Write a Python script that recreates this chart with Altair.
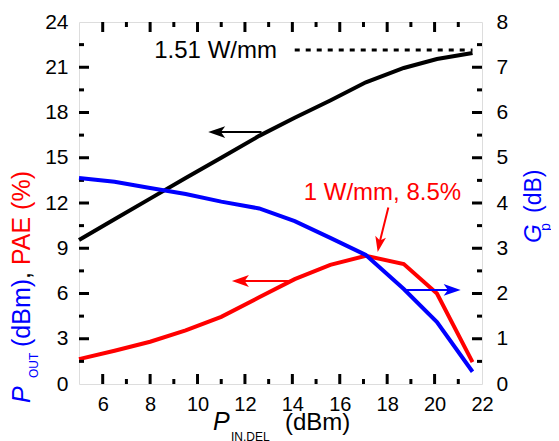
import altair as alt
import pandas as pd

# ---------------- data ----------------
p_in = [5.0, 6.5, 8.0, 9.5, 11.0, 12.6, 14.1, 15.6, 17.1, 18.7, 20.1, 21.6]
p_out = [9.55, 10.92, 12.29, 13.66, 15.0, 16.45, 17.65, 18.8, 20.0, 20.95, 21.55, 21.95]
pae = [1.65, 2.2, 2.8, 3.55, 4.45, 5.75, 6.95, 7.9, 8.5, 7.95, 6.0, 1.45]
gain = [4.55, 4.47, 4.33, 4.2, 4.03, 3.88, 3.6, 3.23, 2.85, 2.1, 1.37, 0.27]

x_ticks = [6, 8, 10, 12, 14, 16, 18, 20, 22]
x_minor = [7, 9, 11, 13, 15, 17, 19, 21]
yl_ticks = [0, 3, 6, 9, 12, 15, 18, 21, 24]
yl_minor = [1.5, 4.5, 7.5, 10.5, 13.5, 16.5, 19.5, 22.5]
yr_ticks = [0, 1, 2, 3, 4, 5, 6, 7, 8]
yr_minor = [0.5, 1.5, 2.5, 3.5, 4.5, 5.5, 6.5, 7.5]

psat_line = {"x": [14.1], "x2": [21.6], "y": [22.15]}
psat_label = {"x": [13.35], "y": [22.1], "t": ["1.51 W/mm"]}
peak_label = {"x": [17.8], "y": [12.65], "t": ["1 W/mm, 8.5%"]}
peak_arrow = {"x": [18.05], "y": [11.7], "x2": [17.65], "y2": [9.2], "tx": [17.6], "ty": [8.75]}
pout_arrow = {"x": [10.9], "x2": [12.7], "y": [16.7], "tx": [10.45]}
pae_arrow = {"x": [11.9], "x2": [13.9], "y": [6.83], "tx": [11.45]}
gain_arrow = {"x": [18.75], "x2": [20.6], "y": [2.08], "tx": [21.1]}

W, H = 403, 362
FONT = "Liberation Sans"
RED, BLUE = "#ff0000", "#0000ff"
HEAD = "M0,0L2,-0.7L1.5,0L2,0.7Z"

df = pd.DataFrame({"x": p_in, "pout": p_out, "pae": pae, "gain": gain})

xscale = alt.Scale(domain=[5, 22], nice=False, zero=False)
xaxis = alt.Axis(values=x_ticks, title=None, orient="bottom", labelFontSize=20,
                 labelPadding=10, ticks=False, domain=False, grid=False,
                 labelFlush=False, labelFont=FONT, labelColor="black")
ylscale = alt.Scale(domain=[0, 24], nice=False, zero=False)
ylaxis = alt.Axis(values=yl_ticks, title=None, orient="left", labelFontSize=21,
                  labelPadding=11, ticks=False, domain=False, grid=False,
                  labelFont=FONT, labelColor="black")
yrscale = alt.Scale(domain=[0, 8], nice=False, zero=False)
yraxis = alt.Axis(values=yr_ticks, title=None, orient="right", labelFontSize=21,
                  labelPadding=14, ticks=False, domain=False, grid=False,
                  labelFont=FONT, labelColor="black")


def X(f):
    return alt.X(f, type="quantitative", scale=xscale, axis=xaxis)


def YL(f):
    return alt.Y(f, type="quantitative", scale=ylscale, axis=ylaxis)


def YR(f):
    return alt.Y(f, type="quantitative", scale=yrscale, axis=yraxis)


def d(obj):
    return pd.DataFrame(obj)


one = pd.DataFrame({"a": [0]})


def label(text, x, y, color="black", size=23, angle=0, italic=False, align="left",
          baseline="middle"):
    kw = dict(text=text, font=FONT, fontSize=size, color=color, align=align,
              baseline=baseline, angle=angle)
    if italic:
        kw["fontStyle"] = "italic"
    return alt.Chart(one).mark_text(**kw).encode(x=alt.value(x), y=alt.value(y))


# ---------------- left-axis layers ----------------
pout_line = alt.Chart(df).mark_line(color="black", strokeWidth=4).encode(x=X("x"), y=YL("pout"))
pae_line = alt.Chart(df).mark_line(color=RED, strokeWidth=4).encode(x=X("x"), y=YL("pae"))

psat = alt.Chart(d(psat_line)).mark_rule(color="black", strokeWidth=3, strokeDash=[5, 6]).encode(
    x=X("x"), x2="x2", y=YL("y"))
psat_txt = alt.Chart(d(psat_label)).mark_text(font=FONT, fontSize=24, align="right",
                                              baseline="middle", color="black").encode(
    x=X("x"), y=YL("y"), text="t:N")
peak_txt = alt.Chart(d(peak_label)).mark_text(font=FONT, fontSize=24, align="center",
                                              baseline="middle", color=RED).encode(
    x=X("x"), y=YL("y"), text="t:N")
peak_stem = alt.Chart(d(peak_arrow)).mark_rule(color=RED, strokeWidth=2).encode(
    x=X("x"), y=YL("y"), x2="x2", y2="y2")
peak_head = alt.Chart(d(peak_arrow)).mark_point(shape=HEAD, size=240, filled=True, opacity=1,
                                                color=RED, angle=281).encode(
    x=X("tx"), y=YL("ty"))

pout_stem = alt.Chart(d(pout_arrow)).mark_rule(color="black", strokeWidth=2).encode(
    x=X("x"), x2="x2", y=YL("y"))
pout_head = alt.Chart(d(pout_arrow)).mark_point(shape=HEAD, size=289, filled=True, opacity=1,
                                                color="black").encode(x=X("tx"), y=YL("y"))
pae_stem = alt.Chart(d(pae_arrow)).mark_rule(color=RED, strokeWidth=2).encode(
    x=X("x"), x2="x2", y=YL("y"))
pae_head = alt.Chart(d(pae_arrow)).mark_point(shape=HEAD, size=289, filled=True, opacity=1,
                                              color=RED).encode(x=X("tx"), y=YL("y"))


def hticks(vals, length, top):
    if top:
        return alt.Chart(pd.DataFrame({"v": vals})).mark_rule(color="black", strokeWidth=3).encode(
            x=X("v"), y=alt.value(0), y2=alt.value(length))
    return alt.Chart(pd.DataFrame({"v": vals})).mark_rule(color="black", strokeWidth=3).encode(
        x=X("v"), y=alt.value(H), y2=alt.value(H - length))


left_ticks = alt.Chart(pd.DataFrame({"v": yl_ticks[1:-1]})).mark_rule(color="black", strokeWidth=3).encode(
    y=YL("v"), x=alt.value(0), x2=alt.value(10))
left_minor = alt.Chart(pd.DataFrame({"v": yl_minor})).mark_rule(color="black", strokeWidth=3).encode(
    y=YL("v"), x=alt.value(0), x2=alt.value(5))

titles = [
    label("P", -57, 381, BLUE, 25, 270, True),
    label("OUT", -45, 356, BLUE, 12, 270),
    label("(dBm)", -57, 325, BLUE, 25, 270),
    label(",", -57, 257, "black", 25, 270),
    label("PAE (%)", -57, 243, RED, 25, 270),
    label("P", 134, 408, "black", 25, 0, True, baseline="alphabetic"),
    label("IN,DEL", 152, 419, "black", 12, 0, baseline="alphabetic"),
    label("(dBm)", 206, 408, "black", 24, 0, baseline="alphabetic"),
    label("G", 455, 221, BLUE, 24, 270, True),
    label("p", 467, 209, BLUE, 14, 270),
    label("(dB)", 455, 191, BLUE, 23, 270),
]

left = alt.layer(
    pout_line, pae_line, psat, psat_txt, peak_txt, peak_stem, peak_head,
    pout_stem, pout_head, pae_stem, pae_head,
    hticks(x_ticks[:-1], 10, False), hticks(x_minor, 5, False),
    hticks(x_ticks[:-1], 10, True), hticks(x_minor, 5, True),
    left_ticks, left_minor, *titles,
)

# ---------------- right-axis layers ----------------
gain_line = alt.Chart(df).mark_line(color=BLUE, strokeWidth=4).encode(x=X("x"), y=YR("gain"))
gain_stem = alt.Chart(d(gain_arrow)).mark_rule(color=BLUE, strokeWidth=2).encode(
    x=X("x"), x2="x2", y=YR("y"))
gain_head = alt.Chart(d(gain_arrow)).mark_point(shape=HEAD, size=289, filled=True, opacity=1,
                                                color=BLUE, angle=180).encode(x=X("tx"), y=YR("y"))
right_ticks = alt.Chart(pd.DataFrame({"v": yr_ticks[1:-1]})).mark_rule(color="black", strokeWidth=3).encode(
    y=YR("v"), x=alt.value(W), x2=alt.value(W - 10))
right_minor = alt.Chart(pd.DataFrame({"v": yr_minor})).mark_rule(color="black", strokeWidth=3).encode(
    y=YR("v"), x=alt.value(W), x2=alt.value(W - 5))

right = alt.layer(gain_line, gain_stem, gain_head, right_ticks, right_minor)

chart = alt.layer(left, right).resolve_scale(y="independent").properties(
    width=W, height=H,
    autosize=alt.AutoSizeParams(type="none"),
    padding={"left": 71, "top": 14, "right": 69, "bottom": 57},
).configure_view(stroke="black", strokeWidth=3).configure(background="white")

chart.save("out.html", embed_options={"renderer": "svg", "actions": False})
